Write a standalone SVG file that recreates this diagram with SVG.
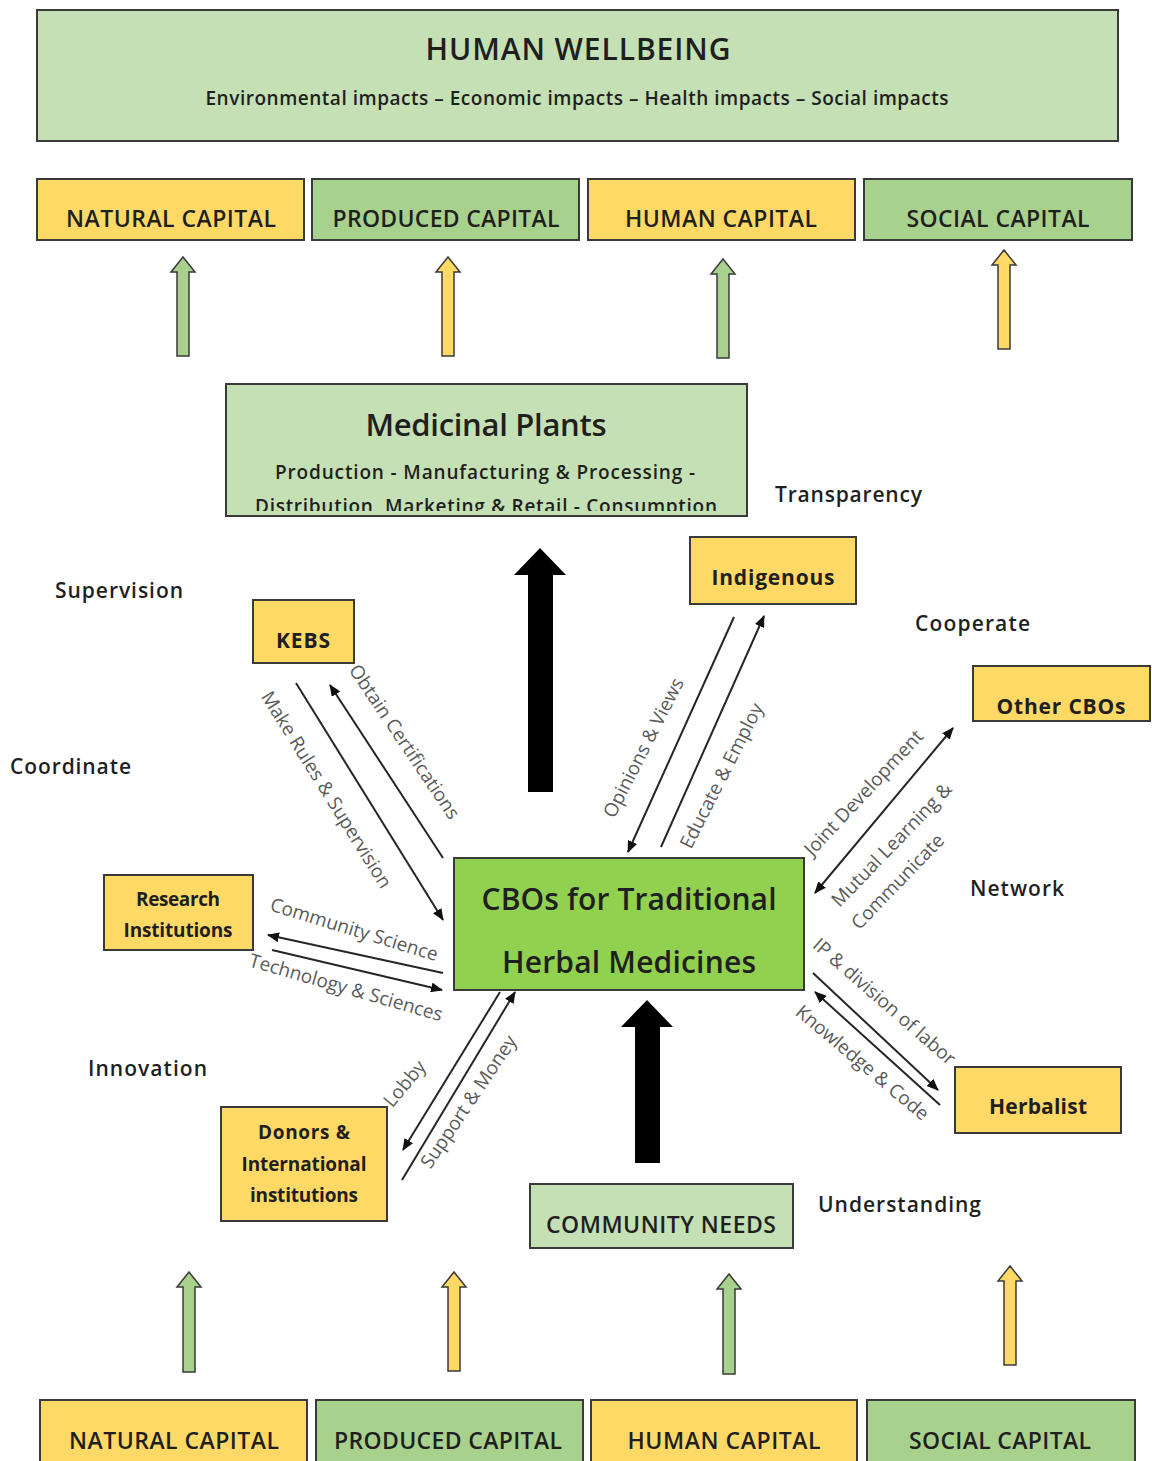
<svg xmlns="http://www.w3.org/2000/svg" width="1152" height="1461" viewBox="0 0 1152 1461">
<style>
text{font-family:"Open Sans","Noto Sans","DejaVu Sans",sans-serif;fill:#1f1f1f}
.box{stroke:#3a3a3a;stroke-width:2}
.lg{fill:#c5e0b4}.g{fill:#a9d18e}.y{fill:#ffd966}.bg{fill:#92d050}
.cap{font-size:23px;font-weight:600;text-anchor:middle}
.nd{font-size:21px;font-weight:700;text-anchor:middle}
.nd2{font-size:19px;font-weight:700;text-anchor:middle}
.kw{font-size:21px;font-weight:600}
.lbl{font-size:19px;fill:#5a5a5a;text-anchor:middle}
.ttl{font-weight:600;text-anchor:middle}
.con{stroke:#262626;stroke-width:2;fill:none}
.ba{stroke:#3a3a3a;stroke-width:1.5}
</style>
<defs>
<marker id="ah" viewBox="0 0 12 10" refX="11" refY="5" markerWidth="12" markerHeight="10" markerUnits="userSpaceOnUse" orient="auto-start-reverse"><path d="M0,0 L12,5 L0,10 Z" fill="#111"/></marker>
<clipPath id="mpclip"><rect x="226" y="384" width="521" height="127"/></clipPath>
</defs>

<g id="human-wellbeing">
<rect class="box lg" x="37" y="10" width="1081" height="131"/>
<text class="ttl" x="578" y="60" font-size="30" textLength="305">HUMAN WELLBEING</text>
<text x="577" y="105" font-size="19" font-weight="600" text-anchor="middle" textLength="743">Environmental impacts – Economic impacts – Health impacts – Social impacts</text>
</g>

<g id="top-capitals">
<rect class="box y" x="37" y="179" width="267" height="61"/>
<text class="cap" x="171" y="227" textLength="210">NATURAL CAPITAL</text>
<rect class="box g" x="312" y="179" width="267" height="61"/>
<text class="cap" x="446" y="227" textLength="227">PRODUCED CAPITAL</text>
<rect class="box y" x="588" y="179" width="267" height="61"/>
<text class="cap" x="721" y="227" textLength="192">HUMAN CAPITAL</text>
<rect class="box g" x="864" y="179" width="268" height="61"/>
<text class="cap" x="998" y="227" textLength="183">SOCIAL CAPITAL</text>
</g>

<g id="top-arrows">
<polygon class="ba g" points="183,257 195,272 189,272 189,356 177,356 177,272 171,272"/>
<polygon class="ba y" points="448,257 460,272 454,272 454,356 442,356 442,272 436,272"/>
<polygon class="ba g" points="723,259 735,274 729,274 729,358 717,358 717,274 711,274"/>
<polygon class="ba y" points="1004,250 1016,265 1010,265 1010,349 998,349 998,265 992,265"/>
</g>

<g id="medicinal-plants">
<rect class="box lg" x="226" y="384" width="521" height="132"/>
<text class="ttl" x="486" y="436" font-size="31" textLength="241">Medicinal Plants</text>
<text x="485" y="479" font-size="19" font-weight="600" text-anchor="middle" textLength="420">Production - Manufacturing &amp; Processing -</text>
<g clip-path="url(#mpclip)"><text x="486" y="513" font-size="19" font-weight="600" text-anchor="middle" textLength="462">Distribution, Marketing &amp; Retail - Consumption</text></g>
</g>

<g id="keywords">
<text class="kw" x="775" y="502" textLength="147">Transparency</text>
<text class="kw" x="55" y="598" textLength="128">Supervision</text>
<text class="kw" x="10" y="774" textLength="121">Coordinate</text>
<text class="kw" x="915" y="631" textLength="115">Cooperate</text>
<text class="kw" x="970" y="896" textLength="94">Network</text>
<text class="kw" x="88" y="1076" textLength="119">Innovation</text>
<text class="kw" x="818" y="1212" textLength="163">Understanding</text>
</g>

<g id="big-arrows">
<polygon fill="#000" points="540,548 566,575 553,575 553,792 528,792 528,575 514,575"/>
<polygon fill="#000" points="647,1000 673,1027 660,1027 660,1163 635,1163 635,1027 621,1027"/>
</g>

<g id="indigenous">
<rect class="box y" x="690" y="537" width="166" height="67"/>
<text class="nd" x="773" y="585" textLength="123">Indigenous</text>
</g>
<g id="kebs">
<rect class="box y" x="253" y="600" width="101" height="63"/>
<text class="nd" x="303" y="648" textLength="54">KEBS</text>
</g>
<g id="other-cbos">
<rect class="box y" x="973" y="666" width="177" height="55"/>
<text class="nd" x="1061" y="714" textLength="129">Other CBOs</text>
</g>
<g id="research-institutions">
<rect class="box y" x="104" y="875" width="149" height="75"/>
<text class="nd2" x="178" y="906" textLength="84">Research</text>
<text class="nd2" x="178" y="937" textLength="109">Institutions</text>
</g>
<g id="cbos">
<rect class="box bg" x="454" y="858" width="350" height="132"/>
<text class="ttl" x="629" y="910" font-size="30" textLength="295">CBOs for Traditional</text>
<text class="ttl" x="629" y="973" font-size="30" textLength="254">Herbal Medicines</text>
</g>
<g id="herbalist">
<rect class="box y" x="955" y="1067" width="166" height="66"/>
<text class="nd" x="1038" y="1114" textLength="98">Herbalist</text>
</g>
<g id="donors">
<rect class="box y" x="221" y="1107" width="166" height="114"/>
<text class="nd2" x="304" y="1139" textLength="92">Donors &amp;</text>
<text class="nd2" x="304" y="1171" textLength="125">International</text>
<text class="nd2" x="304" y="1202" textLength="108">institutions</text>
</g>
<g id="community-needs">
<rect class="box lg" x="530" y="1184" width="263" height="64"/>
<text class="cap" x="661" y="1233" textLength="230">COMMUNITY NEEDS</text>
</g>

<g id="connectors">
<line class="con" x1="296" y1="683" x2="443" y2="920" marker-end="url(#ah)"/>
<line class="con" x1="443" y1="858" x2="330" y2="685" marker-end="url(#ah)"/>
<line class="con" x1="734" y1="617" x2="628" y2="852" marker-end="url(#ah)"/>
<line class="con" x1="661" y1="847" x2="764" y2="616" marker-end="url(#ah)"/>
<line class="con" x1="815" y1="893" x2="953" y2="728" marker-start="url(#ah)" marker-end="url(#ah)"/>
<line class="con" x1="443" y1="973" x2="268" y2="935" marker-end="url(#ah)"/>
<line class="con" x1="272" y1="950" x2="442" y2="990" marker-end="url(#ah)"/>
<line class="con" x1="813" y1="973" x2="938" y2="1090" marker-end="url(#ah)"/>
<line class="con" x1="940" y1="1105" x2="815" y2="992" marker-end="url(#ah)"/>
<line class="con" x1="500" y1="992" x2="403" y2="1150" marker-end="url(#ah)"/>
<line class="con" x1="402" y1="1180" x2="515" y2="992" marker-end="url(#ah)"/>
</g>

<g id="connector-labels">
<text class="lbl" transform="translate(326,790) rotate(58)" dy="6">Make Rules &amp; Supervision</text>
<text class="lbl" transform="translate(404,742) rotate(56)" dy="6">Obtain Certifications</text>
<text class="lbl" transform="translate(644,748) rotate(-63)" dy="6">Opinions &amp; Views</text>
<text class="lbl" transform="translate(722,776) rotate(-63)" dy="6">Educate &amp; Employ</text>
<text class="lbl" transform="translate(864,793) rotate(-47)" dy="6">Joint Development</text>
<text class="lbl" transform="translate(892,845) rotate(-46)" dy="6">Mutual Learning &amp;</text>
<text class="lbl" transform="translate(898,882) rotate(-46)" dy="6">Communicate</text>
<text class="lbl" transform="translate(354,930) rotate(17)" dy="6">Community Science</text>
<text class="lbl" transform="translate(346,988) rotate(16)" dy="6">Technology &amp; Sciences</text>
<text class="lbl" transform="translate(884,1002) rotate(41)" dy="6">IP &amp; division of labor</text>
<text class="lbl" transform="translate(862,1063) rotate(40)" dy="6">Knowledge &amp; Code</text>
<text class="lbl" transform="translate(405,1084) rotate(-50)" dy="6">Lobby</text>
<text class="lbl" transform="translate(469,1102) rotate(-56)" dy="6">Support &amp; Money</text>
</g>

<g id="bottom-arrows">
<polygon class="ba g" points="189,1272 201,1287 195,1287 195,1372 183,1372 183,1287 177,1287"/>
<polygon class="ba y" points="454,1272 466,1287 460,1287 460,1371 448,1371 448,1287 442,1287"/>
<polygon class="ba g" points="729,1274 741,1289 735,1289 735,1374 723,1374 723,1289 717,1289"/>
<polygon class="ba y" points="1010,1266 1022,1281 1016,1281 1016,1365 1004,1365 1004,1281 998,1281"/>
</g>

<g id="bottom-capitals">
<rect class="box y" x="40" y="1400" width="267" height="70"/>
<text class="cap" x="174" y="1449" textLength="210">NATURAL CAPITAL</text>
<rect class="box g" x="316" y="1400" width="267" height="70"/>
<text class="cap" x="448" y="1449" textLength="228">PRODUCED CAPITAL</text>
<rect class="box y" x="591" y="1400" width="266" height="70"/>
<text class="cap" x="724" y="1449" textLength="193">HUMAN CAPITAL</text>
<rect class="box g" x="867" y="1400" width="268" height="70"/>
<text class="cap" x="1000" y="1449" textLength="182">SOCIAL CAPITAL</text>
</g>
</svg>
